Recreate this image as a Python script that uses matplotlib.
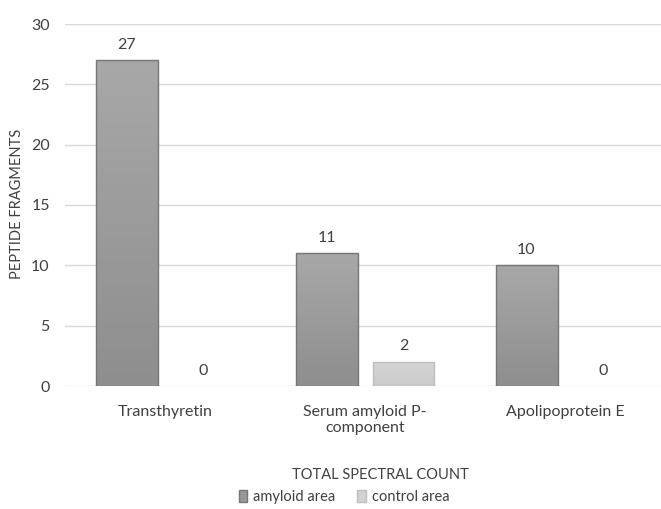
import matplotlib
matplotlib.use("Agg")
import matplotlib.pyplot as plt
import numpy as np
from matplotlib.patches import Patch

categories = ["Transthyretin", "Serum amyloid P-\ncomponent", "Apolipoprotein E"]
amyloid_area = [27, 11, 10]
control_area = [0, 2, 0]
series_names = ["amyloid area", "control area"]
y_ticks = [0, 5, 10, 15, 20, 25, 30]

plt.rcParams['font.family'] = ['Lato', 'DejaVu Sans']
txt = '#404040'
fs = 11.5

fig = plt.figure(figsize=(6.61, 5.09), dpi=100)
ax = fig.add_axes([65/661, 1-386/509, (661-65)/661, (386-24)/509])

x = np.arange(len(categories))
w = 0.31
off = 0.1925
b1 = ax.bar(x - off, amyloid_area, w, color='#9a9a9a', edgecolor='#767676', linewidth=1.0, zorder=3)
b2 = ax.bar(x + off, control_area, w, color='#d2d2d2', edgecolor='#bdbdbd', linewidth=1.0, zorder=3)

# vertical gradient fill for bars
def grad(bars, top_c, bot_c):
    tc = np.array(matplotlib.colors.to_rgb(top_c))
    bc = np.array(matplotlib.colors.to_rgb(bot_c))
    t = np.linspace(0, 1, 256)[:, None]
    img = (tc * (1 - t) + bc * t)[:, None, :]
    for b in bars:
        h = b.get_height()
        if h <= 0:
            b.set_edgecolor('none')
            continue
        x0 = b.get_x(); x1 = x0 + b.get_width()
        im = ax.imshow(img, extent=[x0, x1, 0, h], aspect='auto', zorder=3.5, origin='upper')
        im.set_clip_path(b)
        b.set_facecolor('none')
        b.set_zorder(4)

grad(b1, '#a8a8a8', '#8e8e8e')
grad(b2, '#d6d6d6', '#cacaca')

for bars, vals in ((b1, amyloid_area), (b2, control_area)):
    for b, v in zip(bars, vals):
        ax.text(b.get_x() + b.get_width()/2, v + 0.7, f"{v}", ha='center', va='bottom',
                fontsize=fs, color=txt, zorder=5)

ax.set_xlim(-0.5, -0.5 + (661-65)/200)
ax.set_ylim(0, 30)
ax.set_yticks(y_ticks)
ax.set_yticklabels([str(t) for t in y_ticks], fontsize=fs, color=txt)
ax.set_xticks(x)
ax.set_xticklabels(categories, fontsize=fs, color=txt, va='top', linespacing=1.15)
ax.tick_params(axis='both', length=0)
ax.tick_params(axis='y', pad=11)
ax.tick_params(axis='x', pad=14)
ax.grid(axis='y', color='#d9d9d9', linewidth=1.0, zorder=0)
ax.set_axisbelow(True)
for s in ax.spines.values():
    s.set_visible(False)

fig.text(17/661, 1-204/509, "PEPTIDE FRAGMENTS", rotation=90, ha='center', va='center',
         fontsize=10.5, color=txt)
fig.text(380/661, 1-475/509, "TOTAL SPECTRAL COUNT", ha='center', va='center',
         fontsize=10.5, color=txt)

handles = [Patch(facecolor='#999999', edgecolor='#767676'),
           Patch(facecolor='#d2d2d2', edgecolor='#bdbdbd')]
fig.legend(handles, series_names, loc='center', bbox_to_anchor=(344/661, 1-497/509), ncol=2,
           frameon=False, fontsize=10.5, handlelength=0.6, handleheight=0.8,
           handletextpad=0.4, columnspacing=1.5, labelcolor=txt)

fig.savefig("out.png", dpi=100)
